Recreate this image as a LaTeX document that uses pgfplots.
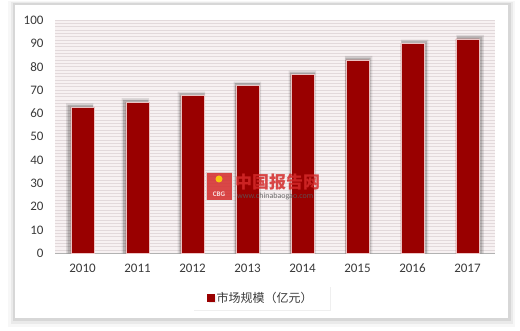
\documentclass[border=0pt]{standalone}
\usepackage{pgfplots}
\pgfplotsset{compat=1.18}
\usepackage{fontspec}
\setmainfont{Carlito}
\newfontfamily\cjk{Noto Sans CJK SC}
\usetikzlibrary{shadows}
\definecolor{barred}{HTML}{990000}
\definecolor{ticktext}{HTML}{3A3A3A}
\definecolor{stripe}{HTML}{E2D9DB}
\definecolor{plotbg}{HTML}{F7F1F2}
\definecolor{wmred}{HTML}{D42A2A}
\begin{document}
\begin{tikzpicture}[x=1pt,y=1pt]
\useasboundingbox (0,0) rectangle (520,331);
\fill[white] (0,0) rectangle (520,331);
\fill[black,opacity=0.03] (8,4) rectangle (515,330);
\fill[black,opacity=0.05] (11,7) rectangle (513,329);
\fill[black,opacity=0.08] (13,10) rectangle (511,328);
\fill[white] (15,13) rectangle (508,326);
\begin{axis}[
  at={(55pt,77.7pt)}, anchor=south west, scale only axis,
  width=440pt, height=233.3pt,
  xmin=-0.5, xmax=7.5, ymin=0, ymax=100,
  xtick={0,1,2,3,4,5,6,7},
  xticklabels={2010,2011,2012,2013,2014,2015,2016,2017},
  ytick={0,10,20,30,40,50,60,70,80,90,100},
  minor y tick num=6,
  ymajorgrids, yminorgrids,
  major grid style={stripe, line width=0.8pt},
  minor grid style={stripe, line width=0.8pt},
  axis background/.style={fill=plotbg},
  axis x line=bottom, axis y line=left,
  x axis line style={-, draw=gray!60, line width=0.9pt},
  y axis line style={draw=none},
  major tick length=0pt, minor tick length=0pt,
  tick label style={font=\fontsize{13}{15}\selectfont, text=ticktext},
  /pgf/number format/assume math mode=true,
  yticklabel style={xshift=-8pt},
  xticklabel style={yshift=-7pt},
  legend style={at={(0.468,-0.19)}, anchor=center, draw=none, fill=white,
    font=\cjk\fontsize{12}{14}\selectfont, text=ticktext,
    inner xsep=15pt, inner ysep=4pt,
    drop shadow={opacity=0.12, shadow xshift=1.5pt, shadow yshift=-1.5pt}},
  legend image code/.code={\fill[barred] (0pt,-3.5pt) rectangle (7pt,3.5pt);},
]
\addplot[ybar, bar shift=0pt, bar width=0.50, fill=black, draw=none, opacity=0.10, forget plot]
  coordinates {(-0.05,64.3) (0.96,66.5) (1.98,69.3) (3.0,73.6) (4.0,78.3) (5.02,84.6) (6.04,91.6) (7.05,93.6)};
\addplot[ybar, bar shift=0pt, bar width=0.46, fill=black, draw=none, opacity=0.18, forget plot]
  coordinates {(-0.04,63.6) (0.97,65.8) (1.99,68.6) (3.0,72.9) (4.0,77.6) (5.01,83.9) (6.03,90.9) (7.04,92.9)};
\addplot[ybar, bar shift=0pt, bar width=0.42, fill=barred, draw={rgb,255:red,235;green,195;blue,195}, line width=0.6pt]
  coordinates {(0,62.6) (1,64.8) (2,67.6) (3,71.9) (4,76.6) (5,82.9) (6,89.9) (7,91.9)};
\addlegendentry{市场规模（亿元）}
\end{axis}
% watermark
\begin{scope}[opacity=0.85]
\fill[wmred] (206,131) rectangle (232,159);
\draw[white!80!gray, line width=0.6pt] (206,131) rectangle (232,159);
\node[text=white, font=\fontsize{7}{8}\selectfont\bfseries] at (219,137) {CBG};
\fill[yellow!80!orange] (219,152) circle (3.5);
\node[anchor=west, text=wmred, font=\cjk\fontsize{17}{18}\selectfont\bfseries, inner sep=0pt] at (235,149) {中国报告网};
\node[anchor=west, text=gray!70!black, font=\fontsize{8}{9}\selectfont, inner sep=0pt] at (237,135) {www.chinabaogao.com};
\end{scope}
\end{tikzpicture}
\end{document}
